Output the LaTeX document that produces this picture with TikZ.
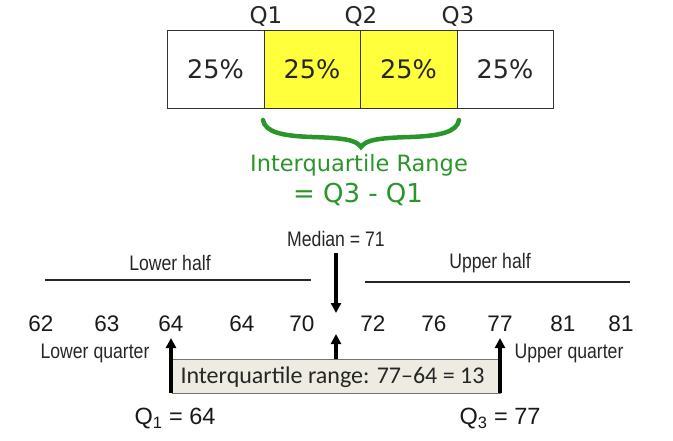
\documentclass[tikz,border=0pt]{standalone}
\usepackage{fontspec}
\setmainfont{DejaVu Sans}
\newfontfamily\arialf{Liberation Sans}
\newfontfamily\arialn[FakeStretch=0.84]{Liberation Sans}
\newfontfamily\calibrif[Ligatures=TeX]{Carlito}
\usetikzlibrary{arrows.meta}
\definecolor{qgreen}{RGB}{40,150,40}
\definecolor{qyellow}{RGB}{255,255,60}
\definecolor{qgray}{RGB}{238,236,226}
\tikzset{
  cell/.style={draw=black!80, line width=1pt, minimum height=78pt, inner sep=0pt, font=\fontsize{25.5}{30}\selectfont, text=black!85},
  qlab/.style={font=\fontsize{23}{26}\selectfont, text=black!85},
  greentext/.style={text=qgreen},
  small/.style={font=\arialn\fontsize{21}{24}\selectfont, text=black!85},
  num/.style={font=\arialf\fontsize{22.5}{25}\selectfont, text=black!90},
  arr/.style={line width=3.2pt, -{Triangle[length=10pt,width=10pt]}},
  hline/.style={line width=2.2pt, black!85}
}
\begin{document}
\begin{tikzpicture}[x=1pt,y=-1pt]
\useasboundingbox (0,0) rectangle (673,440);
% top boxes
\node[cell, minimum width=97pt] (c1) at (215.5,69) {25\%};
\node[cell, fill=qyellow, minimum width=96pt] (c2) at (312,69) {25\%};
\node[cell, fill=qyellow, minimum width=97pt] (c3) at (408.5,69) {25\%};
\node[cell, minimum width=96pt] (c4) at (505,69) {25\%};
\node[qlab] (q1) at (266,16) {Q1};
\node[qlab] (q2) at (361,16) {Q2};
\node[qlab] (q3) at (458,16) {Q3};
% brace
\draw[qgreen, line width=4.5pt, line cap=round]
  (263,120) .. controls (265,132) and (282,136) .. (312,137)
  .. controls (345,138) and (356,140) .. (361,147)
  .. controls (366,140) and (377,138) .. (410,137)
  .. controls (440,136) and (457,132) .. (459,120);
\node[greentext, font=\fontsize{22.5}{26}\selectfont] (iqr) at (359,165) {Interquartile Range};
\node[greentext, font=\fontsize{26}{30}\selectfont] (eq) at (358,195) {= Q3 - Q1};
% bottom part
\node[small] (med) at (336,239) {Median = 71};
\node[small] (lh) at (170,263) {Lower half};
\node[small] (uh) at (490,263) {Upper half};
\coordinate (lhl) at (45,280); \coordinate (lhr) at (311,280);
\coordinate (uhl) at (365,282); \coordinate (uhr) at (630,282);
\draw[hline] (lhl) -- (lhr);
\draw[hline] (uhl) -- (uhr);
\foreach \v/\x/\n in {62/41/n1,63/107/n2,64/171/n3,64/242/n4,70/302/n5,72/373/n6,76/434/n7,77/500/n8,81/563/n9,81/621/n10}
  \node[num] (\n) at (\x,324) {\v};
\coordinate (mt) at (336,253);
\coordinate (mb) at (336,313);
\draw[arr] (mt) -- (mb);
% IQR box
\node[draw=black!55, fill=qgray, line width=0.9pt, minimum width=328pt, minimum height=34pt, inner sep=0pt, anchor=north west] (box) at (172,359) {};
\node[font=\calibrif\fontsize{24}{28}\selectfont, anchor=west, text=black!85] (boxt) at (177,377) {Interquartile range: 77–64 = 13};
\coordinate (a1) at (171,393); \coordinate (a1t) at (171,338);
\coordinate (a3) at (500,393); \coordinate (a3t) at (500,338);
\coordinate (a2t) at (336,334);
\draw[arr] (a1) -- (a1t);
\draw[arr] (a3) -- (a3t);
\draw[arr] (box.north -| a2t) -- (a2t);
\node[small] (lq) at (95,353) {Lower quarter};
\node[small] (uq) at (569,353) {Upper quarter};
\node[num, font=\arialf\fontsize{23.5}{26}\selectfont] (Q1) at (175,419) {Q\textsubscript{1} = 64};
\node[num, font=\arialf\fontsize{23.5}{26}\selectfont] (Q3) at (500,419) {Q\textsubscript{3} = 77};
\end{tikzpicture}
\end{document}
